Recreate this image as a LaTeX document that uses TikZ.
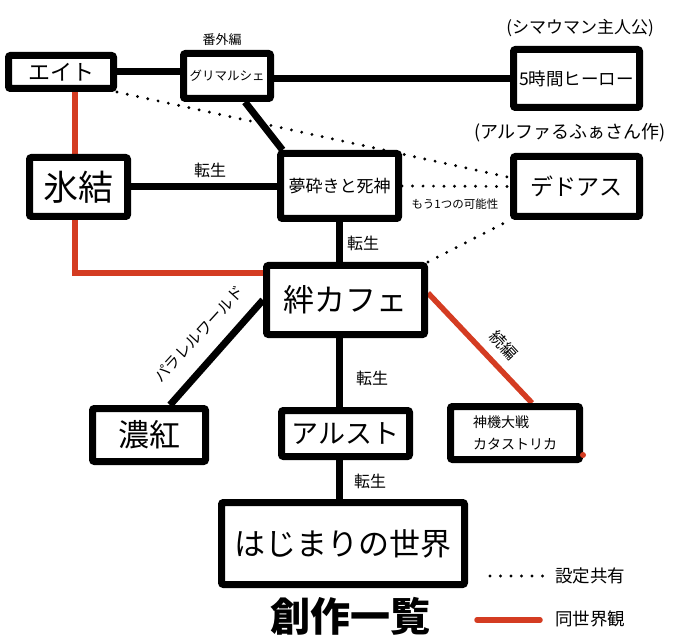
\documentclass[tikz,border=0pt]{standalone}
\usepackage{fontspec}
\setmainfont{Noto Sans CJK JP}
\usetikzlibrary{backgrounds,positioning}
\definecolor{sameworld}{RGB}{212,60,34}

\begin{document}
\begin{tikzpicture}[x=1pt, y=-1pt,
  work/.style 2 args={draw, line width=7pt, fill=white, rounded corners=2pt, inner sep=0pt, minimum width=#1, minimum height=#2},
  note/.style={inner sep=0pt},
  rel/.style={line width=7pt},
  same/.style={sameworld, line width=5.5pt},
  share/.style={line width=3.2pt, dash pattern=on 0pt off 10.5pt, line cap=round}]
\useasboundingbox (0,0) rectangle (680,644);
%Boxes
\node[work={105}{33}, font=\fontsize{22}{22}\selectfont] (eito) at (61,72) {エイト};
\node[work={87}{45}, font=\fontsize{12.5}{12.5}\selectfont] (grim) at (227,76) {グリマルシェ};
\node[work={126}{58}, font=\fontsize{17.5}{17.5}\selectfont] (hero) at (576.5,78.5) {5時間ヒーロー};
\node[work={98}{59}, font=\fontsize{35}{35}\selectfont] (hyou) at (78.5,187) {氷結};
\node[work={118}{65}, font=\fontsize{17}{17}\selectfont] (yume) at (339.5,186) {夢砕きと死神};
\node[work={126}{60}, font=\fontsize{23}{23}\selectfont] (dedo) at (576.5,186.5) {デドアス};
\node[work={158}{69}, font=\fontsize{31}{31}\selectfont] (cafe) at (345.5,300) {絆カフェ};
\node[work={113}{53}, font=\fontsize{31}{31}\selectfont] (noukou) at (149,435) {濃紅};
\node[work={128}{46}, font=\fontsize{27}{27}\selectfont] (alst) at (345.5,433.5) {アルスト};
\node[work={129}{53}, font=\fontsize{14}{22}\selectfont, align=left] (shinki) at (515,433) {神機大戦\\カタストリカ};
\node[work={243}{82}, font=\fontsize{31}{31}\selectfont] (hajimari) at (343,543.5) {はじまりの世界};
%Connectors
\begin{scope}[on background layer]
\draw[rel] (eito.east) -- (eito.east -| grim.west);
\draw[rel] (hero.west -| grim.east) -- (hero.west);
\draw[rel] ([xshift=18pt]grim.south) -- ([xshift=-57pt]yume.north);
\draw[rel] (hyou.east) -- (hyou.east -| yume.west);
\draw[rel] (yume.south) -- (yume.south |- cafe.north);
\draw[rel] (cafe.south -| yume.south) -- (yume.south |- alst.north);
\draw[rel] (alst.south -| yume.south) -- (yume.south |- hajimari.north);
\draw[rel] (cafe.west) -- ([xshift=21pt]noukou.north);
\draw[same] ([xshift=14pt]eito.south) -- ([xshift=14pt]eito.south |- hyou.north);
\draw[same] ([xshift=-3.5pt]hyou.south) |- ([yshift=27pt]cafe.west);
\draw[same] ([yshift=7pt]cafe.east) -- ([xshift=17pt]shinki.north);
\draw[share] (eito.south east) -- ([yshift=9pt]dedo.west);
\draw[share] (yume.east) -- (dedo.west);
\draw[share] (cafe.north east) -- (dedo.south west);
\end{scope}
\fill[sameworld] ([yshift=8pt]shinki.south east) circle (3pt);
%Text
\node[note, font=\fontsize{13}{13}\selectfont] (bangai) at (222,40) {番外編};
\node[note, font=\fontsize{17}{17}\selectfont] (shimauman) at (580,28) {(シマウマン主人公)};
\node[note, font=\fontsize{18}{18}\selectfont] (alpha) at (570,133) {(アルファるふぁさん作)};
\node[note, font=\fontsize{16}{16}\selectfont] (tensei1) at (210,170) {転生};
\node[note, font=\fontsize{16}{16}\selectfont] (tensei2) at (363,243) {転生};
\node[note, font=\fontsize{16}{16}\selectfont] (tensei3) at (372,378) {転生};
\node[note, font=\fontsize{16}{16}\selectfont] (tensei4) at (370,481) {転生};
\node[note, font=\fontsize{11.5}{11.5}\selectfont] (kanousei) at (455,204) {もう1つの可能性};
\node[note, font=\fontsize{15.5}{15.5}\selectfont, rotate=47.5] (parallel) at (199,334) {パラレルワールド};
\node[note, font=\fontsize{16}{16}\selectfont, rotate=-47] (zokuhen) at (504,345) {続編};
\node[note, font=\fontsize{40}{40}\selectfont\bfseries] (title) at (350,616) {創作一覧};
%Legend
\coordinate (shareA) at (490,576);
\coordinate (shareB) at (545,576);
\draw[share] (shareA) -- (shareB);
\node[note, font=\fontsize{17.5}{17.5}\selectfont] (sharetext) at (590,576) {設定共有};
\coordinate (sameA) at (477,620);
\coordinate (sameB) at (540,620);
\draw[same, line cap=round] (sameA) -- (sameB);
\node[note, font=\fontsize{17.5}{17.5}\selectfont] (sametext) at (590,619) {同世界観};
\end{tikzpicture}
\end{document}
